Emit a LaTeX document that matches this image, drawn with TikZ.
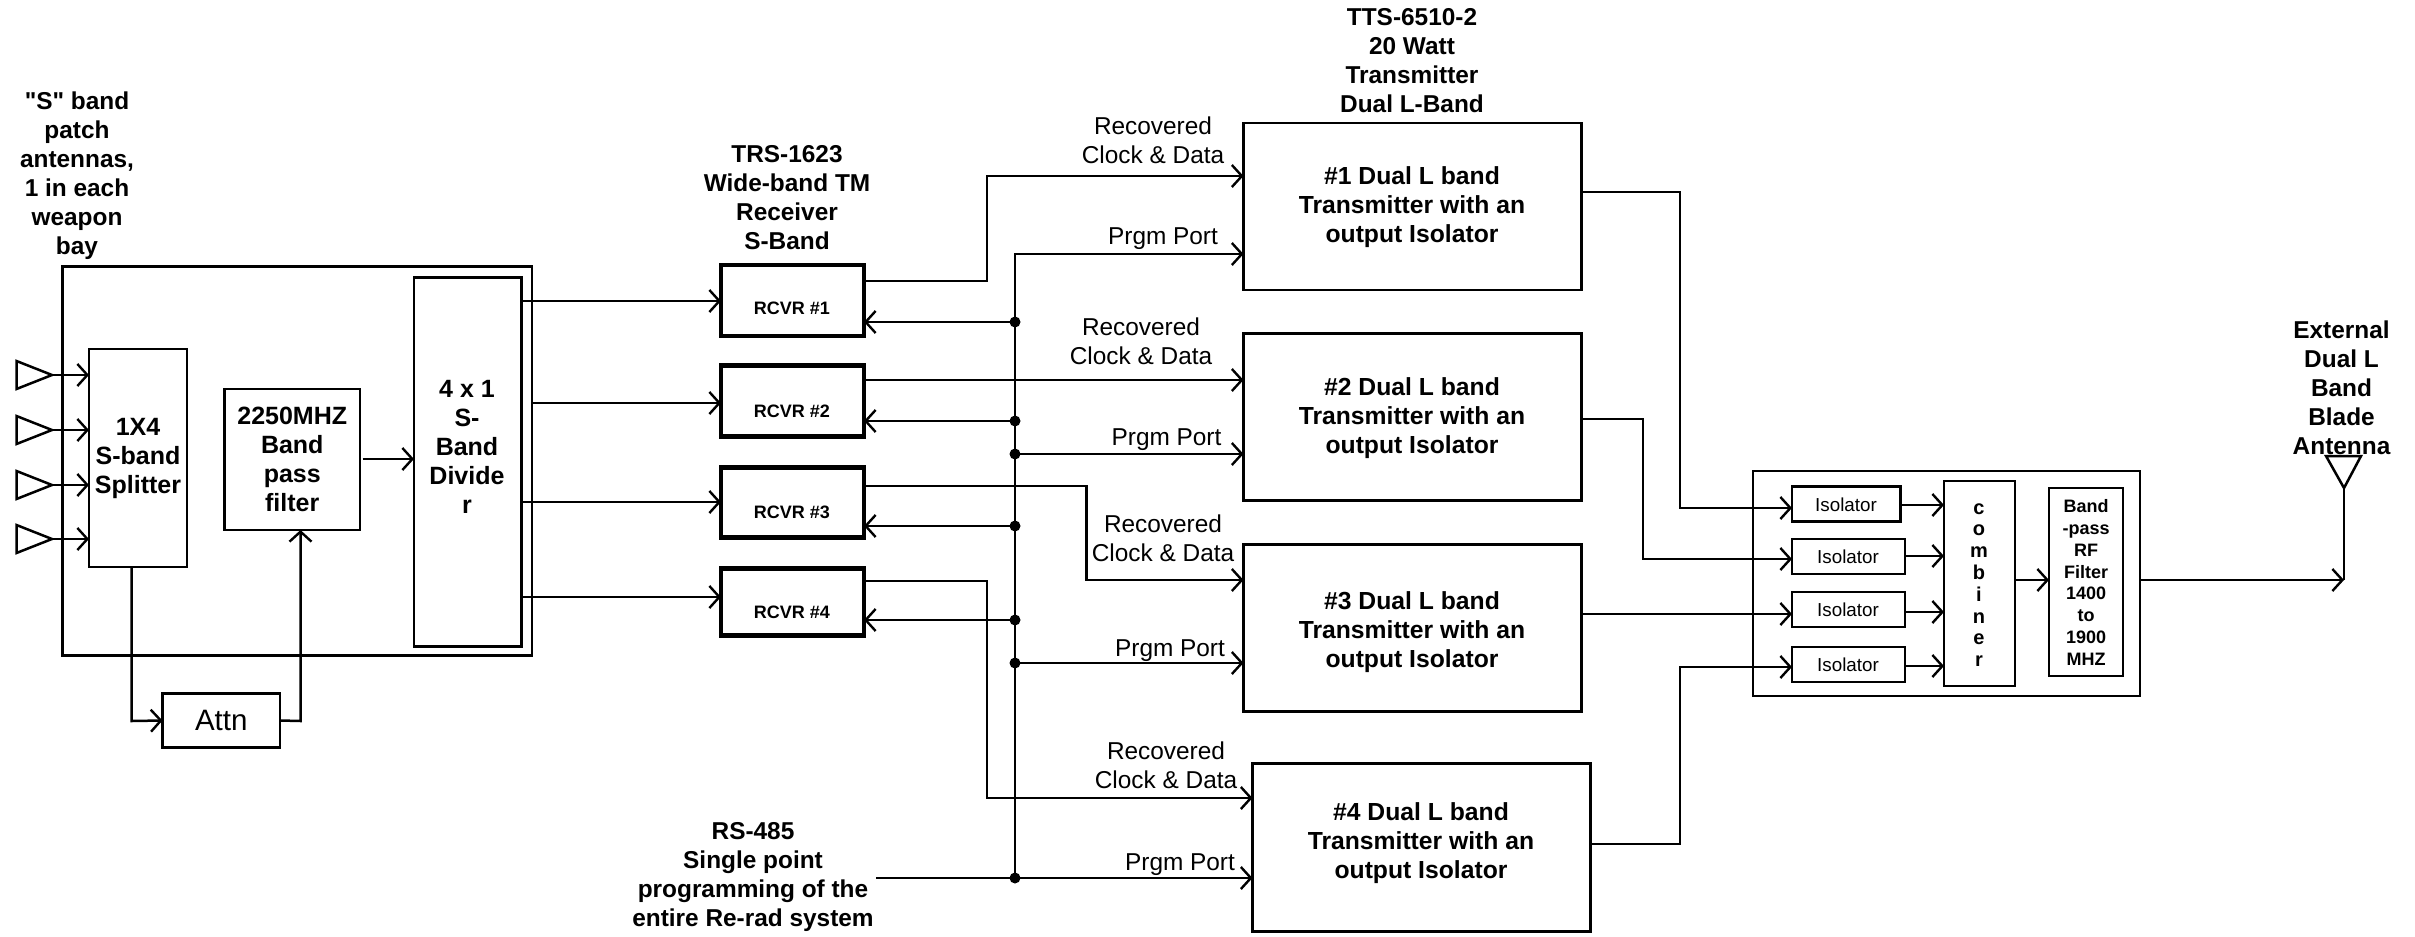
\documentclass[tikz,border=0pt]{standalone}
\usepackage{fontspec}
\setmainfont[Ligatures=TeXOff]{Liberation Sans}
\usetikzlibrary{arrows.meta}
\tikzset{
  wire/.style={line width=2.5pt,line join=miter},
  arr/.style={wire,-{Straight Barb[length=10pt,width=22pt,line width=2.4pt]}},
  blk/.style={draw,line width=2.5pt,inner sep=0pt,outer sep=0pt,align=center},
  rcv/.style={blk,line width=4.6pt},
  iso/.style={inner sep=0pt,outer sep=0pt,font=\fontsize{18.8}{24}\selectfont},
  lab/.style={inner sep=0pt,outer sep=0pt,align=center,font=\fontsize{24.4}{29}\selectfont},
  head/.style={lab,font=\fontsize{24.4}{29}\selectfont\bfseries},
  inbox/.style={font=\fontsize{25}{29}\selectfont\bfseries},
  tx/.style={blk},
  txt/.style={lab,font=\fontsize{24.7}{29}\selectfont\bfseries},
  dot/.style={circle,fill=black,inner sep=0pt,outer sep=0pt,minimum size=11pt},
  tiny/.style={inner sep=0pt,outer sep=0pt,align=center,font=\fontsize{18}{22}\selectfont\bfseries},
}
\begin{document}
\begin{tikzpicture}[x=1pt,y=-1pt]
\useasboundingbox (0,0) rectangle (2415,937);
% left assembly
\node[blk,minimum width=469.5pt,minimum height=389pt] (outer) at (297.25,461) {};
\node[blk,inbox,minimum width=98pt,minimum height=218pt] (split) at (138,458) {1X4\\S-band\\Splitter};
\node[blk,inbox,minimum width=135.5pt,minimum height=141pt] (bpf) at (292.25,459.5) {2250MHZ\\Band\\pass\\filter};
\node[blk,minimum width=107.5pt,minimum height=369pt] (divb) at (467.75,462) {};
\node[lab,inbox] (divt) at (467,447) {4 x 1\\S-\\Band\\Divide\\r};
\node[blk,minimum width=117.5pt,minimum height=54pt,font=\fontsize{29.5}{32}\selectfont] (attn) at (221.25,720.5) {Attn};
\node[head] (shead) at (77,176) {"S" band\\patch\\antennas,\\1 in each\\weapon\\bay};
\foreach \n/\y in {1/375,2/430,3/485,4/539}{
  \coordinate (a\n) at (52,\y);
  \draw[wire] (a\n) -- ++(-35.5,-14) -- ++(0,28) -- cycle;
  \draw[arr] (a\n) -- (split.west |- a\n);
}
\coordinate (bpfo) at (362.5,459);
\draw[arr] (bpfo) -- (divb.west |- bpfo);
\draw[arr] (split.south -| 131.7,0) -- (131.7,721) -- (attn.west);
\draw[arr] (attn.east) -- (300.5,721) -- (bpf.south -| 300.5,0);
% receivers
\node[head] (rhead) at (787,197.5) {TRS-1623\\Wide-band TM\\Receiver\\S-Band};
\node[rcv,minimum width=143pt,minimum height=71pt] (r1) at (792.5,300.5) {};
\node[rcv,minimum width=143pt,minimum height=71pt] (r2) at (792.5,401) {};
\node[rcv,minimum width=143pt,minimum height=70pt] (r3) at (792.5,502.5) {};
\node[rcv,minimum width=143pt,minimum height=67pt] (r4) at (792.5,602) {};
\node[tiny] (r1t) at (792,308) {RCVR \#1};
\node[tiny] (r2t) at (792,411) {RCVR \#2};
\node[tiny] (r3t) at (792,512) {RCVR \#3};
\node[tiny] (r4t) at (792,612) {RCVR \#4};
\coordinate (d1o) at (divb.east |- 0,301);
\coordinate (d2o) at (outer.east |- 0,403);
\coordinate (d3o) at (divb.east |- 0,502);
\coordinate (d4o) at (divb.east |- 0,597);
\draw[arr] (d1o) -- (r1.west |- d1o);
\draw[arr] (d2o) -- (r2.west |- d2o);
\draw[arr] (d3o) -- (r3.west |- d3o);
\draw[arr] (d4o) -- (r4.west |- d4o);
% transmitters
\node[head] (thead) at (1412,61) {TTS-6510-2\\20 Watt\\Transmitter\\Dual L-Band};
\node[tx,minimum width=338pt,minimum height=167pt] (t1) at (1412.5,206.5) {};
\node[tx,minimum width=338pt,minimum height=167pt] (t2) at (1412.5,417) {};
\node[tx,minimum width=338pt,minimum height=167pt] (t3) at (1412.5,628) {};
\node[tx,minimum width=338pt,minimum height=168pt] (t4) at (1421.5,847.5) {};
\node[txt] (t1t) at (1412,207) {\#1 Dual L band\\Transmitter with an\\output Isolator};
\node[txt] (t2t) at (1412,418) {\#2 Dual L band\\Transmitter with an\\output Isolator};
\node[txt] (t3t) at (1412,632.5) {\#3 Dual L band\\Transmitter with an\\output Isolator};
\node[txt] (t4t) at (1421,843.5) {\#4 Dual L band\\Transmitter with an\\output Isolator};
% bus
\node[dot] (b1) at (1015,322) {};
\node[dot] (b2) at (1015,421) {};
\node[dot] (p2) at (1015,454) {};
\node[dot] (b3) at (1015,526) {};
\node[dot] (b4) at (1015,620) {};
\node[dot] (p3) at (1015,663) {};
\node[dot] (p4) at (1015,878) {};
\coordinate (bt) at (1015,254);
\coordinate (rsin) at (876,878);
\draw[arr] (p4.center) -- (bt) -- (t1.west |- bt);
\draw[arr] (rsin) -- (t4.west |- rsin);
\draw[arr] (p2.center) -- (t2.west |- p2);
\draw[arr] (p3.center) -- (t3.west |- p3);
\draw[arr] (b1.center) -- (r1.east |- b1);
\draw[arr] (b2.center) -- (r2.east |- b2);
\draw[arr] (b3.center) -- (r3.east |- b3);
\draw[arr] (b4.center) -- (r4.east |- b4);
% recovered data
\draw[arr] (r1.east |- 0,281) -- (987,281) -- (987,176) -- (t1.west |- 0,176);
\draw[arr] (r2.east |- 0,380) -- (t2.west |- 0,380);
\draw[arr] (r3.east |- 0,486) -- (1086.5,486) -- (1086.5,580) -- (t3.west |- 0,580);
\draw[arr] (r4.east |- 0,581) -- (987,581) -- (987,798) -- (t4.west |- 0,798);
\node[lab] (c1) at (1153,140) {Recovered\\Clock \& Data};
\node[lab] (c2) at (1141,341.5) {Recovered\\Clock \& Data};
\node[lab] (c3) at (1163,538.5) {Recovered\\Clock \& Data};
\node[lab] (c4) at (1166,765.5) {Recovered\\Clock \& Data};
\node[lab] (q1) at (1163,239) {Prgm Port};
\node[lab] (q2) at (1166.5,440) {Prgm Port};
\node[lab] (q3) at (1170,651) {Prgm Port};
\node[lab] (q4) at (1180,865) {Prgm Port};
\node[head] (rs) at (753,877.5) {RS-485\\Single point\\programming of the\\entire Re-rad system};
% right assembly
\node[blk,minimum width=387pt,minimum height=225pt] (combo) at (1946.5,583.5) {};
\node[blk,minimum width=108.6pt,minimum height=35pt] (i1) at (1846.3,504) {};
\node[blk,minimum width=113pt,minimum height=35pt] (i2) at (1848.5,556.5) {};
\node[blk,minimum width=113pt,minimum height=35pt] (i3) at (1848.5,609.5) {};
\node[blk,minimum width=113pt,minimum height=35pt] (i4) at (1848.5,664.5) {};
\node[iso] (i1t) at (1846,505) {Isolator};
\node[iso] (i2t) at (1848,557) {Isolator};
\node[iso] (i3t) at (1848,610) {Isolator};
\node[iso] (i4t) at (1848,665) {Isolator};
\node[blk,minimum width=71pt,minimum height=205pt] (cmb) at (1979.5,583.5) {};
\node[tiny,font=\fontsize{20}{21.8}\selectfont\bfseries] (cmbt) at (1979,585) {c\\o\\m\\b\\i\\n\\e\\r};
\node[blk,minimum width=74pt,minimum height=188pt] (rf) at (2086,582) {};
\node[tiny,font=\fontsize{18}{21.8}\selectfont\bfseries] (rft) at (2086,582.5) {Band\\-pass\\RF\\Filter\\1400\\to\\1900\\MHZ};
\coordinate (o1) at (1581,192);
\coordinate (o2) at (1581,419);
\coordinate (o3) at (1581,614);
\coordinate (o4) at (1590,844);
\draw[arr] (o1) -- (1680,192) -- (1680,508) -- (i1.west |- 0,508);
\draw[arr] (o2) -- (1643,419) -- (1643,559) -- (i2.west |- 0,559);
\draw[arr] (o3) -- (i3.west |- o3);
\draw[arr] (o4) -- (1680,844) -- (1680,667) -- (i4.west |- 0,667);
\draw[arr] (i1.east |- 0,505) -- (cmb.west |- 0,505);
\draw[arr] (i2.east |- 0,556) -- (cmb.west |- 0,556);
\draw[arr] (i3.east |- 0,612) -- (cmb.west |- 0,612);
\draw[arr] (i4.east |- 0,666) -- (cmb.west |- 0,666);
\draw[arr] (cmb.east |- 0,580) -- (rf.west |- 0,580);
\node[head] (ehead) at (2341.5,388) {External\\Dual L\\Band\\Blade\\Antenna};
\coordinate (ant) at (2344,488);
\draw[wire] (ant) -- (2326,456) -- (2361,456) -- cycle;
\draw[wire] (ant) -- (2344,580);
\draw[arr] (combo.east |- 0,580) -- (2344,580);
\end{tikzpicture}
\end{document}
